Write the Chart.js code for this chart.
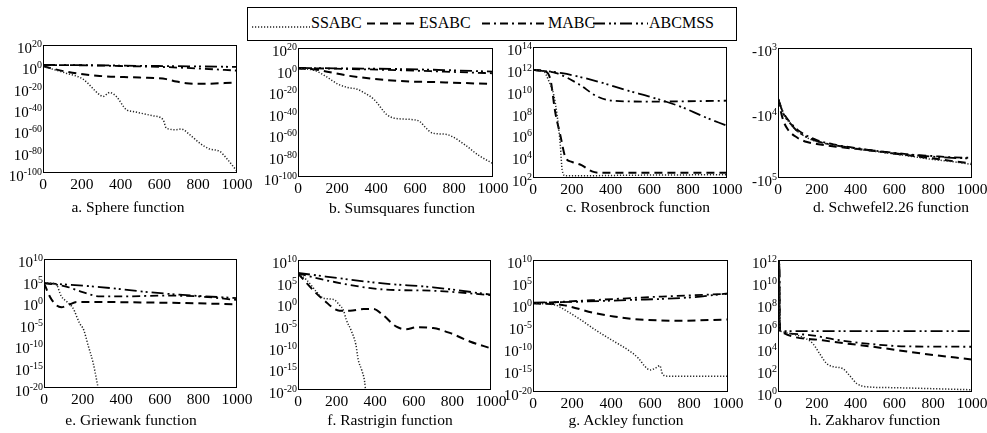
<!DOCTYPE html>
<html><head><meta charset="utf-8">
<script src="https://cdn.jsdelivr.net/npm/chart.js@4.4.1/dist/chart.umd.min.js"></script>
<style>
html,body{margin:0;padding:0;background:#fff;}
#wrap{position:relative;width:987px;height:433px;overflow:hidden;font-family:"Liberation Serif","Times New Roman",serif;color:#000;}
#wrap canvas{position:absolute;left:0;top:0;}
.cap{position:absolute;font-size:15.5px;line-height:18px;white-space:nowrap;transform:translateX(-50%);}
#legend{position:absolute;left:247px;top:7px;width:490px;height:34px;border:1px solid #000;box-sizing:border-box;background:#fff;}
#legend svg{position:absolute;left:0;top:0;}
#legend span{position:absolute;top:6px;font-size:16px;line-height:18px;white-space:nowrap;}
</style></head>
<body><div id="wrap"></div>
<script>
// ---------------- DATA ----------------
const seriesNames = ['SSABC', 'ESABC', 'MABC', 'ABCMSS'];
const iterTicks = [0, 200, 400, 600, 800, 1000];

// y tick exponents (labels 10^n, or -10^n for Schwefel)
const yTicksSphere = [20, 0, -20, -40, -60, -80, -100];
const yTicksRosen = [14, 12, 10, 8, 6, 4, 2];
const yTicksSchwefel = [3, 4, 5];
const yTicksGriew = [10, 5, 0, -5, -10, -15, -20];
const yTicksZakh = [12, 10, 8, 6, 4, 2, 0];

// [iteration, best fitness]
const sphere_SSABC = [[0,1e0],[120,3e-7],[206,1e-12],[292,2e-27],[309,5e-29],[344,3e-25],[378,5e-29],[430,2e-41],[464,5e-43],[567,4e-47],[619,1e-50],[636,1e-58],[687,4e-60],[713,1.6e-59],[756,1e-64],[808,1e-72],[859,3e-78],[911,2e-80],[945,1e-86],[1000,4e-99]];
const sphere_ESABC = [[0,1e0],[120,1e-5],[292,1e-9],[498,3e-11],[636,1e-12],[687,6e-15],[739,1.6e-16],[808,4e-17],[1000,6e-16]];
const sphere_MABC = [[0,2e1],[200,1e1],[400,2e0],[600,3e-1],[800,1e-2],[1000,1e-4]];
const sphere_ABCMSS = [[0,2e1],[250,1e1],[500,3e0],[750,1e0],[1000,3e-1]];

const sumsq_SSABC = [[0,1e1],[87,1e-1],[137,2e-6],[204,3e-14],[255,2e-17],[305,4e-19],[338,3e-22],[389,2e-28],[456,1e-42],[489,1e-45],[590,2e-47],[623,6e-49],[657,3e-55],[690,6e-60],[757,6e-61],[791,4e-63],[858,5e-71],[925,2e-80],[1000,3e-88]];
const sumsq_ESABC = [[0,1e1],[87,1e0],[255,2e-6],[506,3e-11],[757,1e-12],[1000,3e-14]];
const sumsq_MABC = [[0,3e1],[250,3e0],[500,3e-1],[750,1e-2],[1000,3e-4]];
const sumsq_ABCMSS = [[0,3e1],[250,1e1],[500,3e0],[750,3e-1],[1000,1e-2]];

const rosen_SSABC = [[0,8e11],[55,6e11],[81,8e10],[107,4e9],[124,6e7],[141,1e5],[150,6e2],[167,1.6e2],[250,1.6e2],[500,1.8e2],[1000,2e2]];
const rosen_ESABC = [[0,8e11],[60,6e11],[90,1e11],[115,1e8],[141,8e5],[167,8e3],[200,3e3],[250,1.5e3],[304,4e2],[350,3e2],[1000,3e2]];
const rosen_MABC = [[0,8e11],[120,4e11],[235,4e10],[330,3e9],[410,1.2e9],[600,1e9],[1000,1.2e9]];
const rosen_ABCMSS = [[0,8e11],[150,4e11],[320,8e10],[490,1e10],[630,2e9],[770,3e8],[870,5e7],[1000,6e6]];

const schwef_SSABC = [[0,-6000],[25,-10000],[50,-13000],[100,-19000],[150,-24000],[200,-27500],[300,-31500],[400,-35500],[500,-39000],[600,-42500],[700,-47000],[800,-52000],[900,-56000],[1000,-62000]];
const schwef_ESABC = [[0,-6000],[25,-12500],[50,-17800],[100,-24000],[150,-28000],[200,-30000],[300,-33000],[400,-35500],[500,-38000],[600,-42000],[700,-46000],[800,-50000],[900,-55000],[1000,-60000]];
const schwef_MABC = [[0,-6000],[25,-9500],[50,-12500],[100,-18000],[200,-26000],[300,-31000],[400,-34500],[500,-38000],[600,-41000],[700,-44000],[800,-46000],[900,-48000],[1000,-49000]];
const schwef_ABCMSS = [[0,-6000],[30,-10500],[60,-14000],[100,-19000],[200,-27000],[300,-31500],[400,-35000],[500,-38500],[600,-42000],[700,-44500],[800,-47000],[900,-49000],[1000,-50000]];

const griew_SSABC = [[0,2.5e4],[60,2e4],[90,2e1],[115,1.6e0],[135,2.5e-1],[150,4e-2],[185,1e-5],[205,4e-7],[230,5e-11],[255,6e-15],[272,1e-18],[285,1e-21]];
const griew_ESABC = [[0,2.5e4],[30,2e1],[60,2.5e-1],[90,6e-2],[130,2.5e-1],[170,1e0],[300,1e0],[500,8e-1],[700,6e-1],[1000,3e-1]];
const griew_MABC = [[0,2.5e4],[115,4e3],[200,2e2],[290,2e1],[400,2e1],[630,3e1],[800,2e1],[1000,3e0]];
const griew_ABCMSS = [[0,2.5e4],[290,3e3],[500,3e2],[700,5e1],[1000,8e0]];

const rastr_SSABC = [[0,8e6],[45,2.5e5],[95,5e2],[130,1.6e1],[165,1e1],[190,6e0],[215,4e-1],[235,3e-2],[250,1.6e-4],[275,6e-7],[300,2.5e-10],[312,1e-13],[330,4e-16],[345,1e-18],[352,1e-21]];
const rastr_ESABC = [[0,8e6],[95,2e2],[130,8e0],[215,2e-2],[270,2e-2],[340,5e-2],[390,5e-2],[440,2e-3],[510,4e-6],[560,1e-6],[615,3e-6],[700,2e-6],[790,1.3e-7],[890,1.6e-9],[1000,4e-11]];
const rastr_MABC = [[0,8e6],[180,1e5],[440,1.6e3],[700,8e2],[1000,8e1]];
const rastr_ABCMSS = [[0,1e7],[440,4e4],[700,5e3],[1000,1e2]];

const ackley_SSABC = [[0,1.4e0],[115,6e-1],[150,1e-1],[235,5e-4],[320,1.3e-6],[405,6e-9],[490,3e-11],[540,5e-13],[575,6e-15],[600,1e-15],[630,3e-15],[650,1e-14],[665,1e-16],[690,4e-17],[1000,4e-17]];
const ackley_ESABC = [[0,1.4e0],[150,6e-1],[320,8e-3],[490,5e-4],[575,2.5e-4],[750,1.6e-4],[1000,3e-4]];
const ackley_MABC = [[0,1.4e0],[320,8e0],[660,5e1],[1000,2e2]];
const ackley_ABCMSS = [[0,2e0],[200,3e0],[490,8e0],[800,3e1],[1000,2.5e2]];

const zakh_SSABC = [[0,1e12],[3,2e6],[6,6e11],[9,5e5],[12,3.4e5],[145,7e4],[180,2.5e4],[215,3e3],[250,4e2],[285,2e2],[335,1.3e2],[370,3e1],[405,6e0],[455,3e0],[575,2.5e0],[1000,1.6e0]];
const zakh_ESABC = [[0,8e11],[2,1e6],[5,1.2e12],[8,8e5],[12,3.4e5],[230,5e4],[490,1.3e4],[750,3e3],[1000,9e2]];
const zakh_MABC = [[0,1.5e12],[4,3e6],[7,5e11],[10,6e5],[13,3.4e5],[150,1.6e5],[320,5e4],[490,2.2e4],[660,1.4e4],[1000,1.3e4]];
const zakh_ABCMSS = [[0,6e11],[3,1e6],[6,1e12],[10,4e5],[14,3.4e5],[1000,3.4e5]];

const panelTitles = ['a. Sphere function','b. Sumsquares function','c. Rosenbrock function','d. Schwefel2.26 function','e. Griewank function','f. Rastrigin function','g. Ackley function','h. Zakharov function'];

// ---------------- LAYOUT / STYLE ----------------
const W = 987, H = 433;
const boxes = [[43,45,237,173],[298,48,493,177],[533,47,727,178],[778,48,972,178],[44,259,237,388],[298,260,491,390],[533,260,728,392],[778,260,972,392]];
const capPos = [[128,198],[402,199],[638,198],[891,198],[131,411],[390,411],[626,411],[875,411]];
const lineStyles = [
  {borderColor:'#222', borderWidth:1.5, borderDash:[1.2,1.8]},
  {borderColor:'#000', borderWidth:2, borderDash:[8,5]},
  {borderColor:'#000', borderWidth:1.8, borderDash:[8,4,2,4]},
  {borderColor:'#000', borderWidth:1.8, borderDash:[12,4,2,3,2,4]}
];
const FONT = '"Liberation Serif","Times New Roman",serif';

const panels = [
  {series:[sphere_SSABC,sphere_ESABC,sphere_MABC,sphere_ABCMSS], yExp:yTicksSphere, neg:false},
  {series:[sumsq_SSABC,sumsq_ESABC,sumsq_MABC,sumsq_ABCMSS], yExp:yTicksSphere, neg:false},
  {series:[rosen_SSABC,rosen_ESABC,rosen_MABC,rosen_ABCMSS], yExp:yTicksRosen, neg:false},
  {series:[schwef_SSABC,schwef_ESABC,schwef_MABC,schwef_ABCMSS], yExp:yTicksSchwefel, neg:true},
  {series:[griew_SSABC,griew_ESABC,griew_MABC,griew_ABCMSS], yExp:yTicksGriew, neg:false},
  {series:[rastr_SSABC,rastr_ESABC,rastr_MABC,rastr_ABCMSS], yExp:yTicksGriew, neg:false},
  {series:[ackley_SSABC,ackley_ESABC,ackley_MABC,ackley_ABCMSS], yExp:yTicksGriew, neg:false},
  {series:[zakh_SSABC,zakh_ESABC,zakh_MABC,zakh_ABCMSS], yExp:yTicksZakh, neg:false}
];

const wrap = document.getElementById('wrap');

function makeFramePlugin(p) {
  return {
    id: 'frameLabels',
    afterDraw(chart) {
      const ctx = chart.ctx, a = chart.chartArea;
      const xs = chart.scales.x, ys = chart.scales.y;
      ctx.save();
      ctx.strokeStyle = '#000'; ctx.lineWidth = 1; ctx.setLineDash([]);
      ctx.strokeRect(Math.round(a.left)+0.5, Math.round(a.top)+0.5, Math.round(a.right-a.left)-1, Math.round(a.bottom-a.top)-1);
      ctx.fillStyle = '#000';
      ctx.textBaseline = 'alphabetic';
      p.yExp.forEach(e => {
        const py = ys.getPixelForValue(Math.pow(10, e));
        const base = p.neg ? '-10' : '10';
        const sup = String(e);
        ctx.font = '15px ' + FONT; const bw = ctx.measureText(base).width;
        ctx.font = '10px ' + FONT; const sw = ctx.measureText(sup).width;
        const xr = a.left - 1;
        ctx.textAlign = 'left';
        ctx.font = '15px ' + FONT; ctx.fillText(base, xr - sw - bw, py + 8);
        ctx.font = '10px ' + FONT; ctx.fillText(sup, xr - sw, py + 2);
      });
      ctx.font = '15.5px ' + FONT; ctx.textAlign = 'center';
      iterTicks.forEach(v => {
        const px = xs.getPixelForValue(v);
        ctx.fillText(String(v), px, a.bottom + 16);
      });
      ctx.restore();
    }
  };
}

panels.forEach((p, i) => {
  const [l, t, r, b] = boxes[i];
  const cv = document.createElement('canvas');
  cv.width = W; cv.height = H;
  wrap.appendChild(cv);
  const lo = Math.min(...p.yExp), hi = Math.max(...p.yExp);
  new Chart(cv, {
    type: 'line',
    data: {
      datasets: p.series.map((s, k) => Object.assign({
        label: seriesNames[k],
        data: s.map(pt => ({x: pt[0], y: p.neg ? -pt[1] : pt[1]})),
        pointRadius: 0, fill: false, cubicInterpolationMode: 'monotone'
      }, lineStyles[k]))
    },
    options: {
      responsive: false, animation: false, devicePixelRatio: 1, events: [],
      layout: {padding: {left: l, top: t, right: W - r, bottom: H - b}},
      plugins: {legend: {display: false}, tooltip: {enabled: false}},
      scales: {
        x: {type: 'linear', min: 0, max: 1000, display: false},
        y: {type: 'logarithmic', min: Math.pow(10, lo), max: Math.pow(10, hi), reverse: p.neg, display: false}
      }
    },
    plugins: [makeFramePlugin(p)]
  });
  const cap = document.createElement('div');
  cap.className = 'cap';
  cap.textContent = panelTitles[i];
  cap.style.left = capPos[i][0] + 'px';
  cap.style.top = capPos[i][1] + 'px';
  wrap.appendChild(cap);
});

// legend
const lg = document.createElement('div');
lg.id = 'legend';
const lx = [[4,62,19],[119,166,15.5],[234,299,15.5],[345,400,15.5]];
const tx = [63, 171, 300, 401];
let svg = '<svg width="490" height="34">';
lx.forEach((d, k) => {
  const st = lineStyles[k];
  svg += `<line x1="${d[0]}" y1="${d[2]}" x2="${d[1]}" y2="${d[2]}" stroke="${st.borderColor}" stroke-width="${st.borderWidth}" stroke-dasharray="${st.borderDash.join(' ')}"/>`;
});
svg += '</svg>';
lg.innerHTML = svg + seriesNames.map((n, k) => `<span style="left:${tx[k]}px">${n}</span>`).join('');
wrap.appendChild(lg);
</script>
</body></html>
